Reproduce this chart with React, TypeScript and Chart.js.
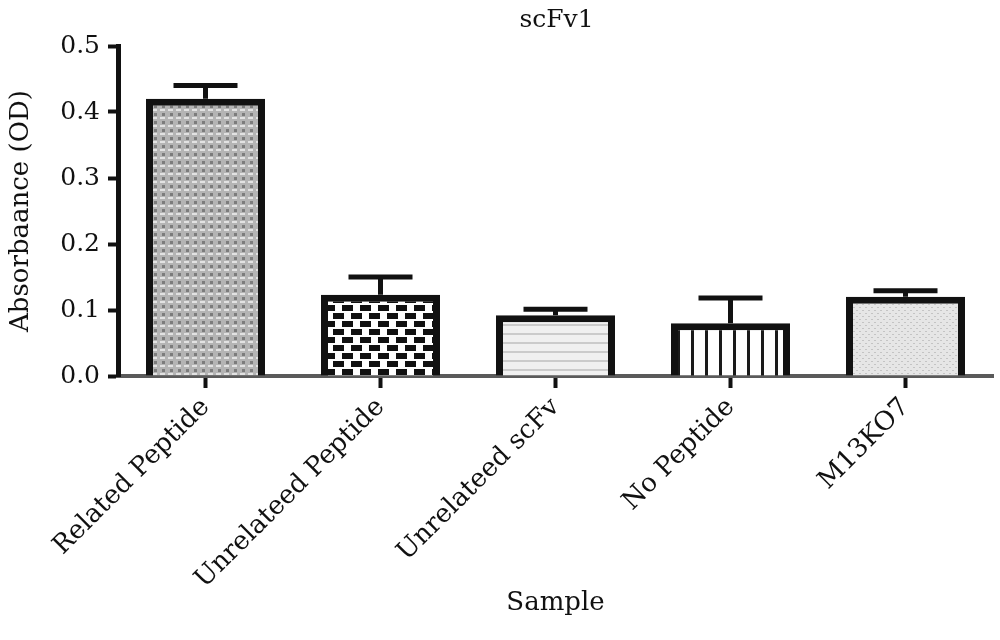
import React, { useEffect, useRef } from "react";
import { Chart, registerables } from "chart.js";

Chart.register(...registerables);

const categories = [
  "Related Peptide",
  "Unrelateed Peptide",
  "Unrelateed scFv",
  "No Peptide",
  "M13KO7",
];
const meanValues = [0.42, 0.123, 0.092, 0.08, 0.12];
const errorValues = [0.02, 0.027, 0.009, 0.038, 0.009];
const yTicks = [0, 0.1, 0.2, 0.3, 0.4, 0.5];
const chartTitle = "scFv1";
const yTitle = "Absorbaance (OD)";
const xTitle = "Sample";

const FONT = "'DejaVu Serif', serif";

function makePattern(kind: number): CanvasPattern | string {
  const c = document.createElement("canvas");
  const ctx = c.getContext("2d")!;
  if (kind === 0) {
    c.width = 8;
    c.height = 8;
    ctx.fillStyle = "#b4b4b4";
    ctx.fillRect(0, 0, 8, 8);
    ctx.fillStyle = "#7c7c7c";
    ctx.fillRect(2, 1, 3, 3);
    ctx.fillStyle = "#e2e2e2";
    ctx.fillRect(0, 5, 5, 2);
  } else if (kind === 1) {
    c.width = 18;
    c.height = 16;
    ctx.fillStyle = "#ffffff";
    ctx.fillRect(0, 0, 18, 16);
    ctx.fillStyle = "#111111";
    ctx.fillRect(0, 1, 11, 6);
    ctx.fillRect(9, 9, 9, 6);
    ctx.fillRect(0, 9, 2, 6);
  } else if (kind === 2) {
    c.width = 8;
    c.height = 9;
    ctx.fillStyle = "#f0f0f0";
    ctx.fillRect(0, 0, 8, 9);
    ctx.fillStyle = "#cbcbcb";
    ctx.fillRect(0, 0, 8, 2);
  } else if (kind === 3) {
    c.width = 14;
    c.height = 8;
    ctx.fillStyle = "#ffffff";
    ctx.fillRect(0, 0, 14, 8);
    ctx.fillStyle = "#1a1a1a";
    ctx.fillRect(5, 0, 3, 8);
  } else {
    c.width = 6;
    c.height = 6;
    ctx.fillStyle = "#e6e6e6";
    ctx.fillRect(0, 0, 6, 6);
    ctx.fillStyle = "#c4c4c4";
    ctx.fillRect(1, 1, 2, 1);
    ctx.fillRect(4, 4, 2, 1);
  }
  return ctx.createPattern(c, "repeat") || "#ccc";
}

const errorBarPlugin = {
  id: "errorBars",
  afterDatasetsDraw(chart: any) {
    const meta = chart.getDatasetMeta(0);
    const y = chart.scales.y;
    const ctx = chart.ctx;
    ctx.save();
    ctx.strokeStyle = "#111";
    ctx.lineWidth = 5;
    meta.data.forEach((bar: any, i: number) => {
      const x = bar.x;
      const yb = y.getPixelForValue(meanValues[i]);
      const yt = y.getPixelForValue(meanValues[i] + errorValues[i]);
      ctx.beginPath();
      ctx.moveTo(x, yb);
      ctx.lineTo(x, yt);
      ctx.moveTo(x - 32, yt);
      ctx.lineTo(x + 32, yt);
      ctx.stroke();
    });
    ctx.restore();
  },
};

const titlePlugin = {
  id: "topTitle",
  afterDraw(chart: any) {
    const ctx = chart.ctx;
    const area = chart.chartArea;
    ctx.save();
    ctx.font = `25px ${FONT}`;
    ctx.fillStyle = "#111";
    ctx.textAlign = "center";
    ctx.textBaseline = "alphabetic";
    ctx.fillText(chartTitle, (area.left + area.right) / 2 + 1, 27);
    ctx.restore();
  },
};

export default function App() {
  const ref = useRef<HTMLCanvasElement>(null);
  useEffect(() => {
    if (!ref.current) return;
    const patterns = categories.map((_, i) => makePattern(i));
    const chart = new Chart(ref.current, {
      type: "bar",
      data: {
        labels: categories,
        datasets: [
          {
            data: meanValues,
            backgroundColor: patterns as any,
            borderColor: "#111",
            borderWidth: 7,
            borderSkipped: "bottom",
            categoryPercentage: 1,
            barPercentage: 0.68,
          },
        ],
      },
      options: {
        animation: false,
        responsive: false,
        layout: { padding: { top: 46, right: 7, left: 0, bottom: 0 } },
        plugins: {
          legend: { display: false },
          tooltip: { enabled: false },
          title: { display: false },
        },
        scales: {
          x: {
            offset: true,
            grid: {
              display: true,
              offset: false,
              drawOnChartArea: false,
              drawTicks: true,
              tickLength: 12,
              tickWidth: 4,
              tickColor: "#111",
            },
            border: { display: true, color: "#5a5a5a", width: 4 },
            ticks: {
              autoSkip: false,
              minRotation: 45,
              maxRotation: 45,
              color: "#111",
              padding: 4,
              font: { family: FONT, size: 26 },
            },
            title: {
              display: true,
              text: xTitle,
              color: "#111",
              font: { family: FONT, size: 26 },
              padding: { top: 0, bottom: 21 },
            },
            afterFit(axis: any) {
              axis.height = 264;
            },
          } as any,
          y: {
            min: 0,
            max: 0.5,
            afterBuildTicks(axis: any) {
              axis.ticks = yTicks.map((v) => ({ value: v }));
            },
            grid: {
              display: true,
              drawOnChartArea: false,
              drawTicks: true,
              tickLength: 10,
              tickWidth: 4,
              tickColor: "#111",
            },
            border: { display: true, color: "#111", width: 5 },
            ticks: {
              color: "#111",
              padding: 8,
              font: { family: FONT, size: 25 },
              callback: (v: any) => Number(v).toFixed(1),
            },
            title: {
              display: true,
              text: yTitle,
              color: "#111",
              font: { family: FONT, size: 26 },
              padding: { top: 6, bottom: 0 },
            },
            afterFit(axis: any) {
              axis.width = 118;
            },
          } as any,
        },
      },
      plugins: [errorBarPlugin, titlePlugin],
    });
    return () => chart.destroy();
  }, []);
  return (
    <div style={{ position: "fixed", left: 0, top: 0, width: 1000, height: 640, background: "#fff" }}>
      <canvas ref={ref} width={1000} height={640} style={{ display: "block" }} />
    </div>
  );
}
